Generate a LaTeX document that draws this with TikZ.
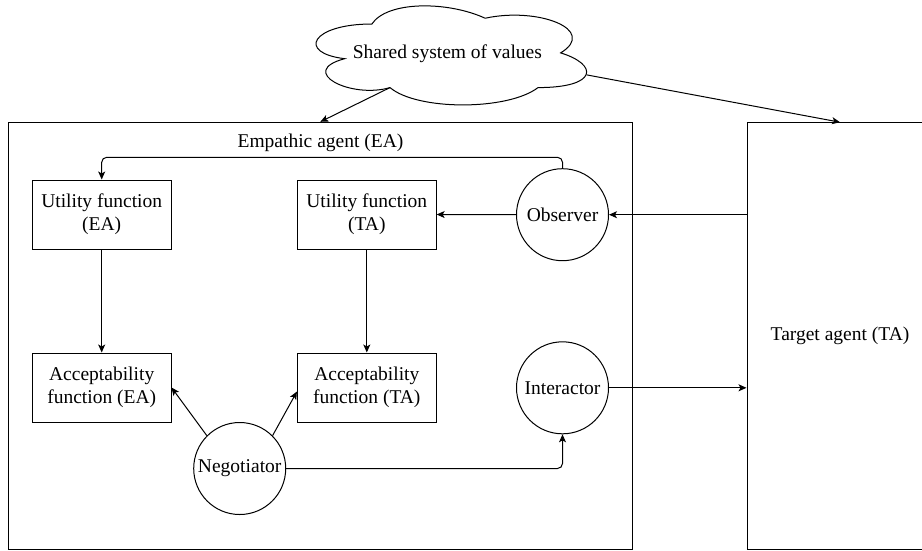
\documentclass[tikz,border=0pt]{standalone}
\usepackage{fontspec}
\setmainfont{Liberation Serif}
\usepackage{tikz}
\usetikzlibrary{arrows.meta}

\begin{document}
\begin{tikzpicture}[x=0.2mm,y=-0.2mm,line width=0.57pt,
  font=\fontsize{11.1}{13.3}\selectfont,
  box/.style={draw,rectangle,align=center,minimum width=27.74mm,minimum height=13.8mm,inner sep=0pt},
  role/.style={draw,circle,minimum size=18.4mm,inner sep=0pt},
  agent/.style={draw,rectangle,inner sep=0pt},
  arr/.style={-{Stealth[length=1.6mm,width=1.4mm,inset=0.4mm]}}]
\clip (0,0) rectangle (922,550);

\node (ea) [agent,minimum width=124.66mm,minimum height=85.34mm] at (320.35,335.65) {};
\node (ealabel) at (320.5,143) {Empathic agent (EA)};
\node (ta) [agent,minimum width=37.2mm,minimum height=85.26mm] at (840,335.85) {Target agent (TA)};

\node (uea) [box] at (101.7,214.5) {Utility function\\(EA)};
\node (uta) [box] at (366.8,214.5) {Utility function\\(TA)};
\node (aea) [box] at (101.7,387.5) {Acceptability\\function (EA)};
\node (ata) [box] at (366.8,387.5) {Acceptability\\function (TA)};

\node (obs) [role] at (562.5,214.7) {Observer};
\node (int) [role] at (562.5,387.8) {Interactor};
\node (neg) [role] at (239.7,468.5) {Negotiator};

\begin{scope}[shift={(296.4,-4.9)},x=60.4mm,y=-23.12mm]
\draw (0.25,0.25) .. controls (0.05,0.25) and (0,0.5) .. (0.16,0.55)
  .. controls (0,0.66) and (0.18,0.9) .. (0.31,0.8)
  .. controls (0.4,1) and (0.7,1) .. (0.8,0.8)
  .. controls (1,0.8) and (1,0.6) .. (0.875,0.5)
  .. controls (1,0.3) and (0.8,0.1) .. (0.625,0.2)
  .. controls (0.5,0.05) and (0.3,0.05) .. cycle;
\coordinate (cloudsw) at (0.31,0.8);
\coordinate (cloude) at (0.961,0.69);
\end{scope}
\node (cloud) at (447.4,54) {Shared system of values};

\draw[arr] (cloudsw) -- (ea.north);
\draw[arr] (cloude) -- (ta.north);

\coordinate (looptop) at (330,157.3);
\draw[arr,rounded corners=1mm] (obs.north) |- (looptop) -| (uea.north);
\draw[arr] (obs.west) -- (uta.east);
\draw[arr] (obs.east -| ta.west) -- (obs.east);
\draw[arr] (int.east) -- (int.east -| ta.west);

\draw[arr] (uea) -- (aea);
\draw[arr] (uta) -- (ata);
\draw[arr] (neg.135) -- (aea.east);
\draw[arr] (neg.45) -- ([yshift=-0.8mm]ata.west);
\draw[arr,rounded corners=1mm] (neg.east) -| (int.south);

\end{tikzpicture}
\end{document}
